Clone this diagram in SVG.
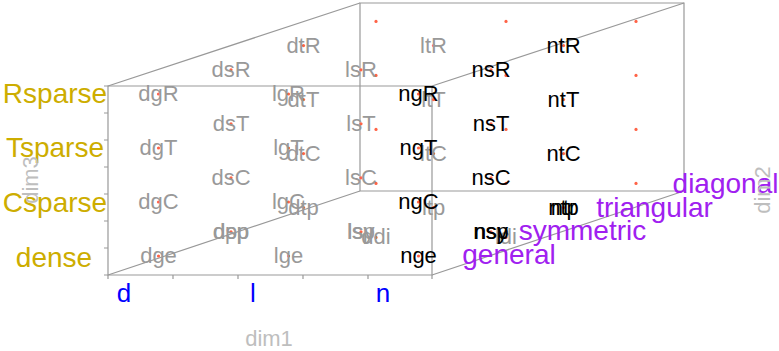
<svg xmlns="http://www.w3.org/2000/svg" width="779" height="351" viewBox="0 0 779 351">
<style>
text{font-family:"Liberation Sans",Arial,Helvetica,sans-serif}
.box{stroke:#999;stroke-width:1.2;fill:none}
.pt{font-size:22px;text-anchor:middle}
.g{fill:#999}
.k{fill:#000}
.dot{fill:#FF6347}
.z{font-size:28px;fill:#CDAD00;text-anchor:middle}
.x{font-size:26px;fill:#0000FF;text-anchor:middle}
.y{font-size:28px;fill:#A020F0;text-anchor:middle}
.dim{font-size:22px;fill:#BEBEBE;text-anchor:middle}
</style>
<rect width="779" height="351" fill="#fff"/>
<g id="box" class="box">
<path d="M108 86H432V275H108Z"/>
<path d="M360 3H684V191H360Z"/>
<path d="M108 86L360 3M432 86L684 3M108 275L360 191M432 275L684 191"/>
<path d="M104 86H108M104 113H108M104 140H108M104 167H108M104 194H108M104 221H108M104 248H108M104 275H108"/>
<path d="M108 275V279M173 275V279M238 275V279M303 275V279M368 275V279M432 275V279"/>
</g>
<g id="nodes-d">
<g id="dge"><circle class="dot" cx="158.5" cy="256" r="1.6"/><text class="pt g" x="158.5" y="263">dge</text></g>
<g id="dgC"><circle class="dot" cx="158.5" cy="202" r="1.6"/><text class="pt g" x="158.5" y="209">dgC</text></g>
<g id="dgT"><circle class="dot" cx="158.5" cy="148" r="1.6"/><text class="pt g" x="158.5" y="155">dgT</text></g>
<g id="dgR"><circle class="dot" cx="158.5" cy="94" r="1.6"/><text class="pt g" x="158.5" y="101">dgR</text></g>
<g id="dpp"><circle class="dot" cx="231" cy="231.8" r="1.6"/><text class="pt g" x="231" y="238.8">dsp</text><text class="pt g" x="231" y="238.8">dpp</text></g>
<g id="dsC"><circle class="dot" cx="231" cy="177.8" r="1.6"/><text class="pt g" x="231" y="184.8">dsC</text></g>
<g id="dsT"><circle class="dot" cx="231" cy="123.8" r="1.6"/><text class="pt g" x="231" y="130.8">dsT</text></g>
<g id="dsR"><circle class="dot" cx="231" cy="69.8" r="1.6"/><text class="pt g" x="231" y="76.8">dsR</text></g>
<g id="dtp"><circle class="dot" cx="303.5" cy="207.6" r="1.6"/><text class="pt g" x="303.5" y="214.6">dtp</text></g>
<g id="dtC"><circle class="dot" cx="303.5" cy="153.6" r="1.6"/><text class="pt g" x="303.5" y="160.6">dtC</text></g>
<g id="dtT"><circle class="dot" cx="303.5" cy="99.6" r="1.6"/><text class="pt g" x="303.5" y="106.6">dtT</text></g>
<g id="dtR"><circle class="dot" cx="303.5" cy="45.6" r="1.6"/><text class="pt g" x="303.5" y="52.6">dtR</text></g>
<g id="ddi"><circle class="dot" cx="376" cy="237.4" r="1.6"/><text class="pt g" x="376" y="244.4">ddi</text></g>
<g id="dd-e"><circle class="dot" cx="376" cy="183.4" r="1.6"/></g>
<g id="dd-C"><circle class="dot" cx="376" cy="129.4" r="1.6"/></g>
<g id="dd-T"><circle class="dot" cx="376" cy="75.4" r="1.6"/></g>
<g id="dd-R"><circle class="dot" cx="376" cy="21.4" r="1.6"/></g>
</g>
<g id="nodes-l">
<g id="lge"><circle class="dot" cx="288.5" cy="256" r="1.6"/><text class="pt g" x="288.5" y="263">lge</text></g>
<g id="lgC"><circle class="dot" cx="288.5" cy="202" r="1.6"/><text class="pt g" x="288.5" y="209">lgC</text></g>
<g id="lgT"><circle class="dot" cx="288.5" cy="148" r="1.6"/><text class="pt g" x="288.5" y="155">lgT</text></g>
<g id="lgR"><circle class="dot" cx="288.5" cy="94" r="1.6"/><text class="pt g" x="288.5" y="101">lgR</text></g>
<g id="lsy"><circle class="dot" cx="361" cy="231.8" r="1.6"/><text class="pt g" x="361" y="238.8">lsy</text><text class="pt g" x="361" y="238.8">lsp</text></g>
<g id="lsC"><circle class="dot" cx="361" cy="177.8" r="1.6"/><text class="pt g" x="361" y="184.8">lsC</text></g>
<g id="lsT"><circle class="dot" cx="361" cy="123.8" r="1.6"/><text class="pt g" x="361" y="130.8">lsT</text></g>
<g id="lsR"><circle class="dot" cx="361" cy="69.8" r="1.6"/><text class="pt g" x="361" y="76.8">lsR</text></g>
<g id="ltp"><circle class="dot" cx="433.5" cy="207.6" r="1.6"/><text class="pt g" x="433.5" y="214.6">ltp</text></g>
<g id="ltC"><circle class="dot" cx="433.5" cy="153.6" r="1.6"/><text class="pt g" x="433.5" y="160.6">ltC</text></g>
<g id="ltT"><circle class="dot" cx="433.5" cy="99.6" r="1.6"/><text class="pt g" x="433.5" y="106.6">ltT</text></g>
<g id="ltR"><circle class="dot" cx="433.5" cy="45.6" r="1.6"/><text class="pt g" x="433.5" y="52.6">ltR</text></g>
<g id="ldi"><circle class="dot" cx="506" cy="237.4" r="1.6"/><text class="pt g" x="506" y="244.4">ldi</text></g>
<g id="ld-e"><circle class="dot" cx="506" cy="183.4" r="1.6"/></g>
<g id="ld-C"><circle class="dot" cx="506" cy="129.4" r="1.6"/></g>
<g id="ld-T"><circle class="dot" cx="506" cy="75.4" r="1.6"/></g>
<g id="ld-R"><circle class="dot" cx="506" cy="21.4" r="1.6"/></g>
</g>
<g id="nodes-n">
<g id="nge"><circle class="dot" cx="418.5" cy="256" r="1.6"/><text class="pt k" x="418.5" y="263">nge</text></g>
<g id="ngC"><circle class="dot" cx="418.5" cy="202" r="1.6"/><text class="pt k" x="418.5" y="209">ngC</text></g>
<g id="ngT"><circle class="dot" cx="418.5" cy="148" r="1.6"/><text class="pt k" x="418.5" y="155">ngT</text></g>
<g id="ngR"><circle class="dot" cx="418.5" cy="94" r="1.6"/><text class="pt k" x="418.5" y="101">ngR</text></g>
<g id="nsy"><circle class="dot" cx="491" cy="231.8" r="1.6"/><text class="pt k" x="491" y="238.8">nsy</text><text class="pt k" x="491" y="238.8">nsp</text></g>
<g id="nsC"><circle class="dot" cx="491" cy="177.8" r="1.6"/><text class="pt k" x="491" y="184.8">nsC</text></g>
<g id="nsT"><circle class="dot" cx="491" cy="123.8" r="1.6"/><text class="pt k" x="491" y="130.8">nsT</text></g>
<g id="nsR"><circle class="dot" cx="491" cy="69.8" r="1.6"/><text class="pt k" x="491" y="76.8">nsR</text></g>
<g id="ntp"><circle class="dot" cx="563.5" cy="207.6" r="1.6"/><text class="pt k" x="563.5" y="214.6">ntr</text><text class="pt k" x="563.5" y="214.6">ntp</text></g>
<g id="ntC"><circle class="dot" cx="563.5" cy="153.6" r="1.6"/><text class="pt k" x="563.5" y="160.6">ntC</text></g>
<g id="ntT"><circle class="dot" cx="563.5" cy="99.6" r="1.6"/><text class="pt k" x="563.5" y="106.6">ntT</text></g>
<g id="ntR"><circle class="dot" cx="563.5" cy="45.6" r="1.6"/><text class="pt k" x="563.5" y="52.6">ntR</text></g>
<g id="nd-e"><circle class="dot" cx="636" cy="183.4" r="1.6"/></g>
<g id="nd-C"><circle class="dot" cx="636" cy="129.4" r="1.6"/></g>
<g id="nd-T"><circle class="dot" cx="636" cy="75.4" r="1.6"/></g>
<g id="nd-R"><circle class="dot" cx="636" cy="21.4" r="1.6"/></g>
</g>
<g id="axis-labels">
<text class="z" x="55" y="103">Rsparse</text>
<text class="z" x="55" y="157">Tsparse</text>
<text class="z" x="55" y="212">Csparse</text>
<text class="z" x="54" y="267">dense</text>
<text class="x" x="124" y="302">d</text>
<text class="x" x="253" y="302">l</text>
<text class="x" x="383" y="302">n</text>
<text class="y" x="509" y="263.5">general</text>
<text class="y" x="582.5" y="240">symmetric</text>
<text class="y" x="654.5" y="216.5">triangular</text>
<text class="y" x="725.5" y="193">diagonal</text>
<text class="dim" x="269" y="346">dim1</text>
<text class="dim" transform="translate(38,180) rotate(-90)">dim3</text>
<text class="dim" transform="translate(770,190) rotate(-90)">dim2</text>
</g>
</svg>
